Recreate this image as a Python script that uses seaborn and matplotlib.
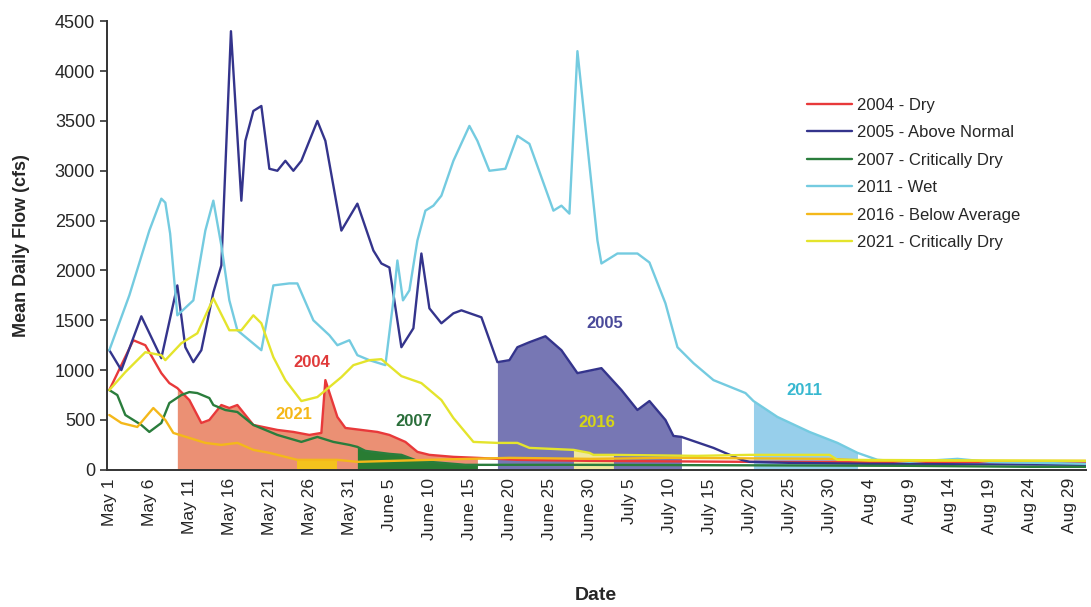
import numpy as np
import pandas as pd
import seaborn as sns
import matplotlib
matplotlib.use("Agg")
import matplotlib.pyplot as plt

# day index: 0 = May 1, 122 = Aug 31 (cfs)
days_2004 = [0, 1.5, 3, 4.5, 6.5, 7.5, 8.5, 10, 11.5, 12.5, 14, 15, 16, 18, 21, 23, 25, 26.5, 27, 28.5, 29.5,
             31.5, 33.5, 35, 37, 38.5, 40, 43, 46, 51, 60, 80, 122]
flow_2004 = [800, 1050, 1300, 1250, 970, 870, 820, 700, 470, 500, 650, 620, 650, 450, 400, 380, 350, 370, 900, 530, 420,
             400, 380, 350, 280, 180, 150, 130, 120, 100, 90, 80, 80]

days_2005 = [0, 1.5, 4, 6.5, 8.5, 9.5, 10.5, 11.5, 13, 14, 15.2, 16.5, 17, 18, 19, 20, 21, 22, 23, 24, 26, 27, 29, 31,
             33, 34, 35, 36.5, 38, 39, 40, 41.5, 43, 44, 46.5, 48.5, 50, 51, 52.5, 54.5, 56.5, 58.5, 61.5, 64, 66,
             67.5, 69.5, 70.5, 71.5, 75.5, 79, 80, 85, 95, 122]
flow_2005 = [1200, 1000, 1540, 1120, 1850, 1230, 1080, 1200, 1780, 2050, 4400, 2700, 3300, 3600, 3650, 3020, 3000, 3100,
             3000, 3100, 3500, 3300, 2400, 2670, 2200, 2070, 2030, 1230, 1420, 2170, 1620, 1470, 1570, 1600, 1530, 1080,
             1100, 1230, 1280, 1340, 1200, 970, 1020, 800, 600, 690, 500, 340, 330, 220, 100, 80, 70, 60, 50]

days_2007 = [0, 1, 2, 4, 5, 6.5, 7.5, 9, 10, 11, 12.5, 13, 14.5, 16, 18, 21, 24, 26, 28, 30, 31, 32, 35, 36.5, 38.5,
             44.5, 46, 60, 80, 100, 115, 122]
flow_2007 = [800, 750, 550, 450, 380, 470, 670, 750, 780, 770, 720, 650, 600, 580, 450, 350, 280, 330, 280, 250, 230,
             190, 160, 150, 90, 50, 50, 50, 45, 40, 30, 30]

days_2011 = [0, 2.5, 5, 6.5, 7, 7.6, 8.5, 10.5, 12, 13, 14, 15, 16, 17.5, 19, 20.5, 22.5, 23.5, 25.5, 27.5, 28.5, 30,
             31, 32.5, 34.5, 35.5, 36, 36.7, 37.5, 38.5, 39.5, 40.5, 41.5, 43, 45, 46, 47.5, 49.5, 51, 52.5, 55.5,
             56.5, 57.5, 58.5, 61, 61.5, 63.5, 66, 67.5, 69.5, 71, 73, 75.5, 79.5, 80.5, 83.5, 87.5, 91, 93.5, 96,
             100, 106, 110, 122]
flow_2011 = [1200, 1750, 2400, 2720, 2680, 2370, 1550, 1700, 2400, 2700, 2250, 1700, 1400, 1300, 1200, 1850, 1870,
             1870, 1500, 1350, 1250, 1300, 1150, 1100, 1050, 1700, 2100, 1700, 1800, 2300, 2600, 2650, 2750, 3100,
             3450, 3300, 3000, 3020, 3350, 3270, 2600, 2650, 2570, 4200, 2300, 2070, 2170, 2170, 2080, 1670, 1230,
             1070, 900, 770, 690, 530, 380, 270, 170, 100, 80, 110, 80, 60]

days_2016 = [0, 1.5, 3.5, 5.5, 7, 8, 10, 12, 14, 16, 18, 20, 22, 23.5, 28.5, 31, 40, 50, 60, 70, 90, 95, 122]
flow_2016 = [550, 470, 430, 620, 500, 370, 320, 270, 250, 270, 200, 170, 130, 100, 100, 80, 100, 120, 110, 120, 110,
             90, 90]

days_2021 = [0, 2, 4.5, 6.5, 7, 9, 11, 13, 15, 16.5, 18, 19, 20.5, 22, 24, 26, 27.5, 29, 30.5, 32.5, 34, 36.5, 39,
             41.5, 43, 45.5, 48.5, 51, 52.5, 58, 60, 60.5, 63, 73.5, 80, 90, 91, 122]
flow_2021 = [800, 980, 1180, 1150, 1100, 1270, 1370, 1720, 1400, 1400, 1550, 1470, 1130, 900, 690, 730, 830, 930,
             1050, 1100, 1110, 940, 870, 700, 520, 280, 270, 270, 220, 200, 170, 150, 150, 140, 150, 150, 100, 90]

series_names = ["2004 - Dry", "2005 - Above Normal", "2007 - Critically Dry", "2011 - Wet",
                "2016 - Below Average", "2021 - Critically Dry"]
line_colors = ["#e8393a", "#34348c", "#2a7d3c", "#74cbe0", "#f4b81a", "#e4e42c"]

# shaded windows (day start, day end) and their fill colours
shade_windows = [(8.5, 46), (48.5, 71.5), (31, 46), (80.5, 93.5), (23.5, 28.5), (58, 63)]
shade_colors = ["#ea8a6c", "#7070b0", "#1e7b30", "#92cdea", "#f5c518", "#f6ef9c"]

label_text = ["2004", "2005", "2007", "2011", "2021", "2016"]
label_day = [25.3, 61.9, 38.1, 86.9, 23.1, 60.9]
label_flow = [1080, 1470, 480, 800, 550, 470]
label_colors = ["#e03a3a", "#4a4a9a", "#2a6e3a", "#38b8d0", "#f5b818", "#d6d616"]

tick_days = list(range(0, 121, 5))
tick_labels = ["May 1", "May 6", "May 11", "May 16", "May 21", "May 26", "May 31", "June 5", "June 10",
               "June 15", "June 20", "June 25", "June 30", "July 5", "July 10", "July 15", "July 20",
               "July 25", "July 30", "Aug 4", "Aug 9", "Aug 14", "Aug 19", "Aug 24", "Aug 29"]

all_days = [days_2004, days_2005, days_2007, days_2011, days_2016, days_2021]
all_flow = [flow_2004, flow_2005, flow_2007, flow_2011, flow_2016, flow_2021]

frames = []
for name, d, f in zip(series_names, all_days, all_flow):
    frames.append(pd.DataFrame({"day": d, "flow": f, "year": name}))
df = pd.concat(frames, ignore_index=True)

sns.set_style("white")
plt.rcParams["font.family"] = ["Liberation Sans", "DejaVu Sans"]

fig, ax = plt.subplots(figsize=(10.91, 6.07), dpi=100)
fig.subplots_adjust(left=0.098, right=0.995, bottom=0.226, top=0.965)

# shaded areas under each year's window
for i in range(len(series_names)):
    d = np.array(all_days[i])
    f = np.array(all_flow[i])
    lo, hi = shade_windows[i]
    m = (d >= lo) & (d <= hi)
    ax.fill_between(d[m], 0, f[m], color=shade_colors[i], alpha=0.95, lw=0, zorder=1)

sns.lineplot(data=df, x="day", y="flow", hue="year", hue_order=series_names,
             palette=dict(zip(series_names, line_colors)), sort=False, estimator=None,
             linewidth=1.7, ax=ax, zorder=2)

for t, d, f, c in zip(label_text, label_day, label_flow, label_colors):
    ax.text(d, f, t, color=c, fontsize=12, fontweight="bold", ha="center", va="center", zorder=3)

ax.set_xlim(-0.3, 122)
ax.set_ylim(0, 4500)
ax.set_yticks(np.arange(0, 4501, 500))
ax.set_xticks(tick_days)
ax.set_xticklabels(tick_labels, rotation=90)
ax.set_xticks(np.arange(0, 123, 4), minor=True)
ax.tick_params(axis="x", which="major", length=0, labelsize=12.5, pad=6)
ax.tick_params(axis="x", which="minor", length=6, width=1.2, direction="inout", color="#333333")
ax.tick_params(axis="y", length=5, width=1.2, direction="out", color="#333333", labelsize=13, left=True)

for s in ["top", "right"]:
    ax.spines[s].set_visible(False)
for s in ["left", "bottom"]:
    ax.spines[s].set_color("#333333")
    ax.spines[s].set_linewidth(1.4)

ax.set_xlabel("Date", fontsize=14, fontweight="bold", labelpad=34)
ax.set_ylabel("Mean Daily Flow (cfs)", fontsize=13, fontweight="bold", labelpad=18)

ax.legend(loc="upper left", bbox_to_anchor=(0.715, 0.83), frameon=False, fontsize=12,
          handlelength=2.7, handletextpad=0.35, labelspacing=0.75, borderpad=0, borderaxespad=0)

plt.savefig("out.png", dpi=100)
plt.close()
